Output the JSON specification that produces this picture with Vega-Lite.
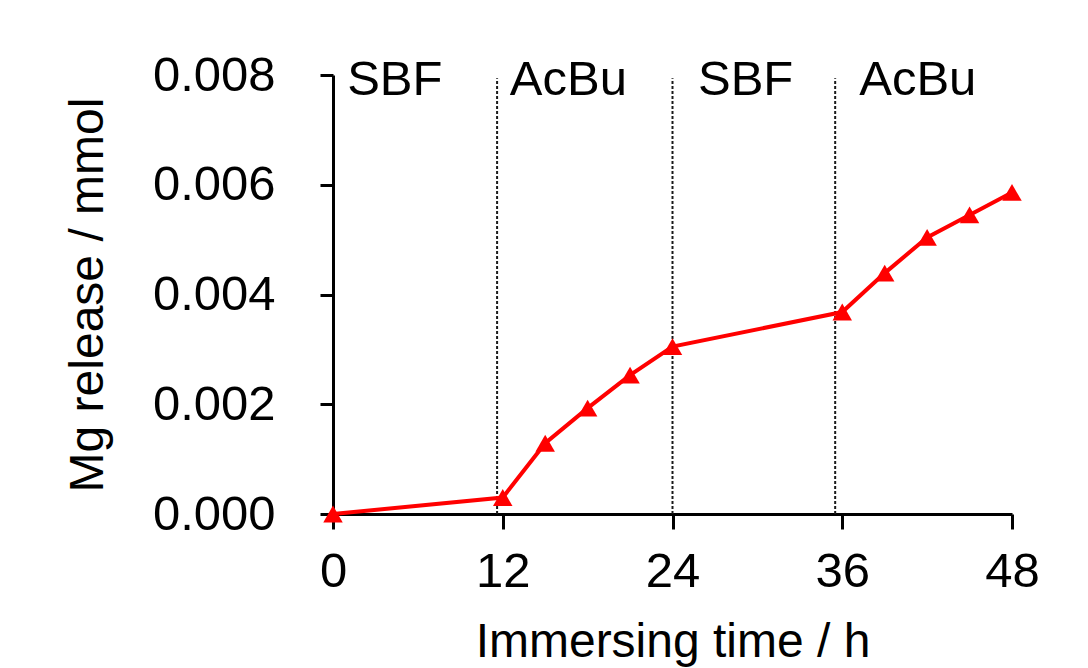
{
  "$schema": "https://vega.github.io/schema/vega-lite/v6.json",
  "autosize": {"type": "none"},
  "width": 679,
  "height": 439,
  "padding": {"left": 333, "top": 75, "right": 76, "bottom": 154},
  "background": "white",
  "config": {
    "view": {"stroke": null},
    "font": "Liberation Sans",
    "axis": {"grid": false, "domainColor": "black", "tickColor": "black", "labelColor": "black", "titleColor": "black", "labelFont": "Liberation Sans", "titleFont": "Liberation Sans", "titleFontWeight": "normal"}
  },
  "datasets": {
    "release": [
      {"time": 0, "mg": 0.0},
      {"time": 12, "mg": 0.00030},
      {"time": 15, "mg": 0.00129},
      {"time": 18, "mg": 0.00193},
      {"time": 21, "mg": 0.00253},
      {"time": 24, "mg": 0.00305},
      {"time": 36, "mg": 0.00368},
      {"time": 39, "mg": 0.00439},
      {"time": 42, "mg": 0.00504},
      {"time": 45, "mg": 0.00545},
      {"time": 48, "mg": 0.00586}
    ],
    "phases": [
      {"boundary": 11.6, "bottom": 0, "top": 0.00794},
      {"boundary": 24.0, "bottom": 0, "top": 0.00794},
      {"boundary": 35.5, "bottom": 0, "top": 0.00794}
    ],
    "labels": [
      {"label": "SBF", "time": 1.0, "mg": 0.0079},
      {"label": "AcBu", "time": 12.5, "mg": 0.0079},
      {"label": "SBF", "time": 25.8, "mg": 0.0079},
      {"label": "AcBu", "time": 37.2, "mg": 0.0079}
    ]
  },
  "layer": [
    {
      "data": {"name": "phases"},
      "mark": {"type": "rule", "color": "#1a1a1a", "strokeWidth": 2, "strokeDash": [3, 2]},
      "encoding": {
        "x": {"field": "boundary", "type": "quantitative"},
        "y": {"field": "bottom", "type": "quantitative"},
        "y2": {"field": "top"}
      }
    },
    {
      "data": {"name": "labels"},
      "mark": {"type": "text", "align": "left", "baseline": "middle", "fontSize": 49, "color": "black", "font": "Liberation Sans"},
      "encoding": {
        "x": {"field": "time", "type": "quantitative"},
        "y": {"field": "mg", "type": "quantitative"},
        "text": {"field": "label"}
      }
    },
    {
      "data": {"name": "release"},
      "mark": {"type": "line", "color": "#FF0000", "strokeWidth": 4, "clip": false, "point": {"shape": "triangle-up", "size": 380, "color": "#FF0000", "filled": true, "opacity": 1}},
      "encoding": {
        "x": {
          "field": "time", "type": "quantitative",
          "scale": {"domain": [0, 48], "nice": false},
          "axis": {"values": [0, 12, 24, 36, 48], "title": "Immersing time / h", "labelFontSize": 49, "titleFontSize": 48, "tickSize": 15, "tickWidth": 3, "domainWidth": 3, "labelPadding": 18, "titlePadding": 22, "labelFlush": false}
        },
        "y": {
          "field": "mg", "type": "quantitative",
          "scale": {"domain": [0, 0.008], "nice": false},
          "axis": {"values": [0, 0.002, 0.004, 0.006, 0.008], "format": ".3f", "title": "Mg release / mmol", "labelFontSize": 49, "titleFontSize": 48, "tickSize": 13, "tickWidth": 3, "domainWidth": 3, "labelPadding": 45, "titlePadding": 40, "labelFlush": false}
        }
      }
    }
  ]
}
